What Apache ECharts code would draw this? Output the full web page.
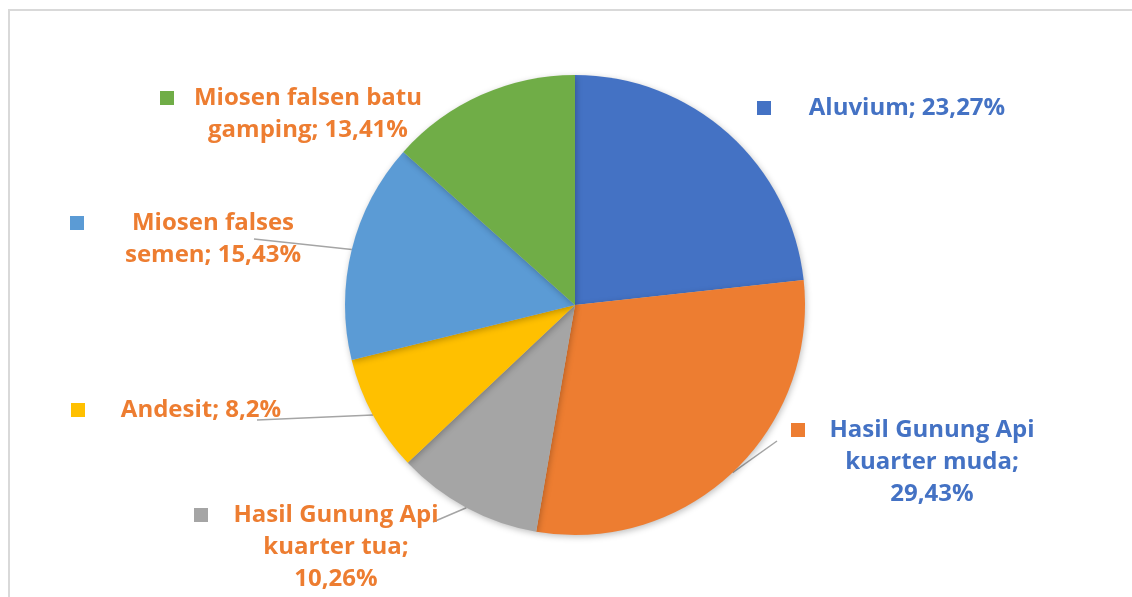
<!DOCTYPE html>
<html>
<head>
<meta charset="utf-8">
<script src="https://cdn.jsdelivr.net/npm/echarts@6/dist/echarts.min.js"></script>
<style>
  html, body { margin: 0; padding: 0; background: #fff; }
  #chart { width: 1132px; height: 597px; }
</style>
</head>
<body>
<div id="chart"></div>
<script>
const categories = [
  "Aluvium",
  "Hasil Gunung Api kuarter muda",
  "Hasil Gunung Api kuarter tua",
  "Andesit",
  "Miosen falses semen",
  "Miosen falsen batu gamping",
];
const percentages = [23.27, 29.43, 10.26, 8.2, 15.43, 13.41];
const sliceColors = ["#4472C4", "#ED7D31", "#A5A5A5", "#FFC000", "#5B9BD5", "#70AD47"];
const labelColors = ["#4472C4", "#4472C4", "#ED7D31", "#ED7D31", "#ED7D31", "#ED7D31"];

// where each label block sits: square left/top, text centre x, wrap length, label line end
const labelBoxes = [
  { sx: 757, top: 92, cx: 907, wrap: 30, lineEnd: null },
  { sx: 791, top: 414, cx: 932, wrap: 16, lineEnd: [777, 441] },
  { sx: 194, top: 499, cx: 336, wrap: 16, lineEnd: [433, 522] },
  { sx: 71, top: 394, cx: 201, wrap: 30, lineEnd: [257, 420] },
  { sx: 70, top: 207, cx: 213, wrap: 13, lineEnd: [254, 239] },
  { sx: 160, top: 82, cx: 308, wrap: 18, lineEnd: null },
];

const FONT = '"Open Sans", "DejaVu Sans", sans-serif';
const LINE_H = 32;

function wrapText(str, max) {
  const words = str.split(" ");
  const lines = [];
  let cur = "";
  words.forEach((w) => {
    const next = cur ? cur + " " + w : w;
    if (next.length > max && cur) {
      lines.push(cur);
      cur = w;
    } else {
      cur = next;
    }
  });
  if (cur) lines.push(cur);
  return lines;
}

const pieData = categories.map((name, i) => {
  const box = labelBoxes[i];
  const textW = 2 * (box.cx - box.sx - 14);
  const lines = wrapText(name + "; " + String(percentages[i]).replace(".", ",") + "%", box.wrap);
  const text = lines
    .map((l, k) => (k === 0 ? "{sq|}" : "{pad|}") + "{t|" + l + "}")
    .join("\n");
  return {
    name,
    value: percentages[i],
    itemStyle: { color: sliceColors[i] },
    labelLine: { show: !!box.lineEnd },
    label: {
      formatter: text,
      rich: {
        sq: { width: 14, height: 14, backgroundColor: sliceColors[i], lineHeight: LINE_H },
        pad: { width: 14, lineHeight: LINE_H },
        t: {
          width: textW,
          align: "center",
          color: labelColors[i],
          fontSize: 24,
          fontWeight: "bold",
          fontFamily: FONT,
          lineHeight: LINE_H,
        },
      },
    },
  };
});

const chart = echarts.init(document.getElementById("chart"));
chart.setOption({
  animation: false,
  backgroundColor: "#fff",
  graphic: [
    {
      type: "rect",
      silent: true,
      shape: { x: 9, y: 10, width: 1300, height: 800 },
      style: { fill: "none", stroke: "#d9d9d9", lineWidth: 2 },
    },
  ],
  series: [
    {
      type: "pie",
      center: [575, 305],
      radius: 230,
      startAngle: 90,
      clockwise: true,
      avoidLabelOverlap: false,
      itemStyle: {
        borderWidth: 0,
        shadowBlur: 6,
        shadowColor: "rgba(0,0,0,0.25)",
        shadowOffsetX: 1,
        shadowOffsetY: 2,
      },
      emphasis: { disabled: true },
      label: { show: true, position: "outside" },
      labelLine: {
        show: true,
        length: 10,
        length2: 10,
        lineStyle: { color: "#a5a5a5", width: 1.5 },
      },
      labelLayout: function (p) {
        const box = labelBoxes[p.dataIndex];
        const out = { x: box.sx, y: box.top, align: "left", verticalAlign: "top", hideOverlap: false };
        if (box.lineEnd && p.labelLinePoints) {
          out.labelLinePoints = [p.labelLinePoints[0], box.lineEnd];
        }
        return out;
      },
      data: pieData,
    },
  ],
});
</script>
</body>
</html>
